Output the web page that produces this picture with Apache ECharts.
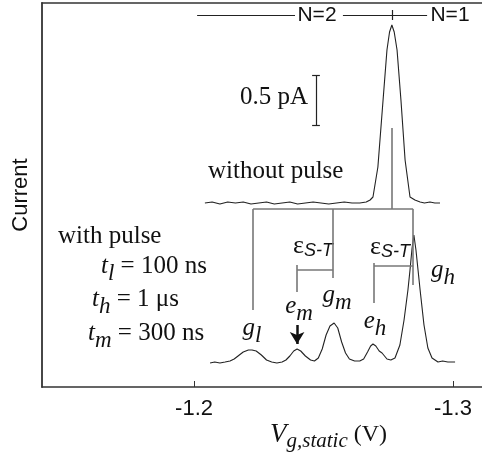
<!DOCTYPE html>
<html><head><meta charset="utf-8">
<script src="https://cdn.jsdelivr.net/npm/echarts@6/dist/echarts.min.js"></script>
<style>html,body{margin:0;padding:0;background:#fff}#c{width:482px;height:456px}</style>
</head><body><div id="c"></div>
<script>
// ---- data (V in volts, current in pA) ----
const xTicks = [-1.2, -1.3];
const vWith = [-1.2062,-1.2080,-1.2100,-1.2120,-1.2139,-1.2155,-1.2170,-1.2190,-1.2210,-1.2224,-1.2240,-1.2260,-1.2280,-1.2300,-1.2320,-1.2340,-1.2355,-1.2370,-1.2385,-1.2398,-1.2412,-1.2430,-1.2450,-1.2465,-1.2480,-1.2495,-1.2510,-1.2525,-1.2541,-1.2555,-1.2570,-1.2585,-1.2600,-1.2620,-1.2640,-1.2655,-1.2670,-1.2682,-1.2691,-1.2702,-1.2715,-1.2726,-1.2745,-1.2760,-1.2776,-1.2795,-1.2811,-1.2826,-1.2834,-1.2842,-1.2849,-1.2857,-1.2865,-1.2873,-1.2888,-1.2903,-1.2919,-1.2942,-1.2960,-1.2980,-1.3000,-1.3008];
const iWith = [0.24,0.25,0.24,0.25,0.26,0.28,0.31,0.35,0.37,0.37,0.36,0.32,0.27,0.25,0.24,0.25,0.27,0.31,0.36,0.38,0.36,0.31,0.27,0.26,0.29,0.38,0.52,0.61,0.64,0.59,0.45,0.34,0.28,0.26,0.26,0.28,0.35,0.41,0.43,0.41,0.36,0.34,0.28,0.27,0.29,0.42,0.67,0.97,1.17,1.39,1.52,1.37,1.17,0.97,0.62,0.39,0.29,0.25,0.26,0.25,0.25,0.25];
const vWithout = [-1.2042,-1.2070,-1.2100,-1.2130,-1.2160,-1.2190,-1.2220,-1.2250,-1.2280,-1.2310,-1.2340,-1.2370,-1.2400,-1.2430,-1.2460,-1.2490,-1.2520,-1.2550,-1.2580,-1.2610,-1.2640,-1.2665,-1.2680,-1.2691,-1.2710,-1.2730,-1.2745,-1.2755,-1.2764,-1.2773,-1.2784,-1.2799,-1.2815,-1.2834,-1.2853,-1.2873,-1.2890,-1.2911,-1.2930,-1.2950];
const iWithout = [1.84,1.85,1.83,1.85,1.84,1.85,1.83,1.84,1.85,1.83,1.84,1.85,1.83,1.84,1.85,1.84,1.83,1.84,1.85,1.84,1.84,1.85,1.87,1.90,2.20,2.87,3.37,3.55,3.62,3.55,3.37,2.87,2.27,1.90,1.87,1.85,1.84,1.85,1.84,1.84];
// annotation segments [x1,y1,x2,y2]
const grayLines = [
  [-1.2228,1.78,-1.2846,1.78],
  [-1.2228,1.78,-1.2228,0.77],
  [-1.2537,1.78,-1.2537,1.09],
  [-1.2846,1.78,-1.2846,1.02],
  [-1.2764,2.59,-1.2764,1.78],
  [-1.2398,1.22,-1.2398,0.95],
  [-1.2398,1.17,-1.2537,1.17],
  [-1.2695,1.24,-1.2695,0.84],
  [-1.2695,1.21,-1.2846,1.21]
];
const blackLines = [
  [-1.2012,3.72,-1.2390,3.72],
  [-1.2575,3.72,-1.2900,3.72],
  [-1.2764,3.77,-1.2764,3.67],
  [-1.2471,3.12,-1.2471,2.62],
  [-1.2456,3.12,-1.2486,3.12],
  [-1.2456,2.62,-1.2486,2.62]
];
const arrowLine = [-1.2398,0.62,-1.2398,0.43];

const chart = echarts.init(document.getElementById('c'), null, {renderer:'canvas'});
const pair = (a,b)=>a.map((v,i)=>[v,b[i]]);
const seg = s => [{coord:[s[0],s[1]]},{coord:[s[2],s[3]]}];
const serif = '"Liberation Serif","Times New Roman",serif';
const sans = '"Liberation Sans",Arial,sans-serif';

function txt(x,y,text,rich,align,valign){
  return {type:'text',x:x,y:y,style:{text:text,rich:rich,fontFamily:serif,fontSize:25,fill:'#111',align:align||'left',verticalAlign:valign||'middle'}};
}
const richT = {
  i:{fontFamily:serif,fontStyle:'italic',fontSize:25,fill:'#111'},
  s:{fontFamily:serif,fontStyle:'italic',fontSize:23,fill:'#111',padding:[15,0,0,0]},
  r:{fontFamily:serif,fontSize:25,fill:'#111'}
};
const richE = {
  e:{fontFamily:serif,fontSize:26,fill:'#111'},
  s:{fontFamily:sans,fontStyle:'italic',fontSize:18,fill:'#111',padding:[10,0,0,0]}
};
const richG = {
  i:{fontFamily:serif,fontStyle:'italic',fontSize:25,fill:'#111'},
  s:{fontFamily:serif,fontStyle:'italic',fontSize:23,fill:'#111',padding:[15,0,0,0]}
};
const richX = {
  i:{fontFamily:serif,fontStyle:'italic',fontSize:27,fill:'#111'},
  s:{fontFamily:serif,fontStyle:'italic',fontSize:21,fill:'#111',padding:[12,0,0,0]},
  r:{fontFamily:serif,fontSize:24,fill:'#111'}
};

chart.setOption({
  animation:false,
  grid:{left:42,right:0,top:3,bottom:69},
  xAxis:[{
    type:'value',min:-1.3112,max:-1.1413,inverse:true,
    axisLine:{lineStyle:{color:'#333',width:1.5}},
    axisTick:{inside:true,length:6,customValues:xTicks,lineStyle:{color:'#333'}},
    axisLabel:{customValues:xTicks,formatter:v=>v.toFixed(1),fontFamily:sans,fontSize:22,color:'#111',margin:11},
    splitLine:{show:false}
  },{
    type:'value',position:'top',min:-1.3112,max:-1.1413,inverse:true,
    axisLine:{show:true,lineStyle:{color:'#333',width:1.5}},
    axisTick:{show:false},axisLabel:{show:false},splitLine:{show:false}
  }],
  yAxis:{type:'value',min:0,max:3.84,
    axisLine:{show:true,lineStyle:{color:'#333',width:1.8}},
    axisTick:{show:false},axisLabel:{show:false},splitLine:{show:false},
    name:'Current',nameLocation:'middle',nameRotate:90,nameGap:10,
    nameTextStyle:{fontFamily:sans,fontSize:22,color:'#111'}
  },
  series:[
    {type:'line',data:pair(vWithout,iWithout),symbol:'none',lineStyle:{color:'#222',width:1.1}},
    {type:'line',data:pair(vWith,iWith),symbol:'none',lineStyle:{color:'#222',width:1.1},
      markLine:{silent:true,symbol:['none','none'],label:{show:false},
        lineStyle:{color:'#777',width:1.6,type:'solid'},
        data:grayLines.map(seg)}},
    {type:'line',data:[],markLine:{silent:true,symbol:['none','none'],label:{show:false},
        lineStyle:{color:'#222',width:1.2,type:'solid'},data:blackLines.map(seg)}},
    {type:'line',data:[],markLine:{silent:true,symbol:['none','arrow'],symbolSize:[11,12],label:{show:false},
        lineStyle:{color:'#111',width:2.5,type:'solid'},data:[seg(arrowLine)]}}
  ],
  graphic:[
    {type:'text',x:317,y:15,style:{text:'N=2',fontFamily:sans,fontSize:21,fill:'#111',align:'center',verticalAlign:'middle'}},
    {type:'text',x:450,y:15,style:{text:'N=1',fontFamily:sans,fontSize:21,fill:'#111',align:'center',verticalAlign:'middle'}},
    txt(240,97,'0.5 pA'),
    txt(208,171,'without pulse'),
    txt(58,236,'with pulse'),
    txt(101,266,'{i|t}{s|l}{r| = 100 ns}',richT),
    txt(92,299,'{i|t}{s|h}{r| = 1 μs}',richT),
    txt(88,333,'{i|t}{s|m}{r| = 300 ns}',richT),
    txt(252,328,'{i|g}{s|l}',richG,'center'),
    txt(299,306,'{i|e}{s|m}',richG,'center'),
    txt(337,295,'{i|g}{s|m}',richG,'center'),
    txt(375,321,'{i|e}{s|h}',richG,'center'),
    txt(443,270,'{i|g}{s|h}',richG,'center'),
    txt(313,246,'{e|ε}{s|S-T}',richE,'center'),
    txt(390,247,'{e|ε}{s|S-T}',richE,'center'),
    txt(270,435,'{i|V}{s|g,static}{r| (V)}',richX,'left')
  ]
});
</script></body></html>
